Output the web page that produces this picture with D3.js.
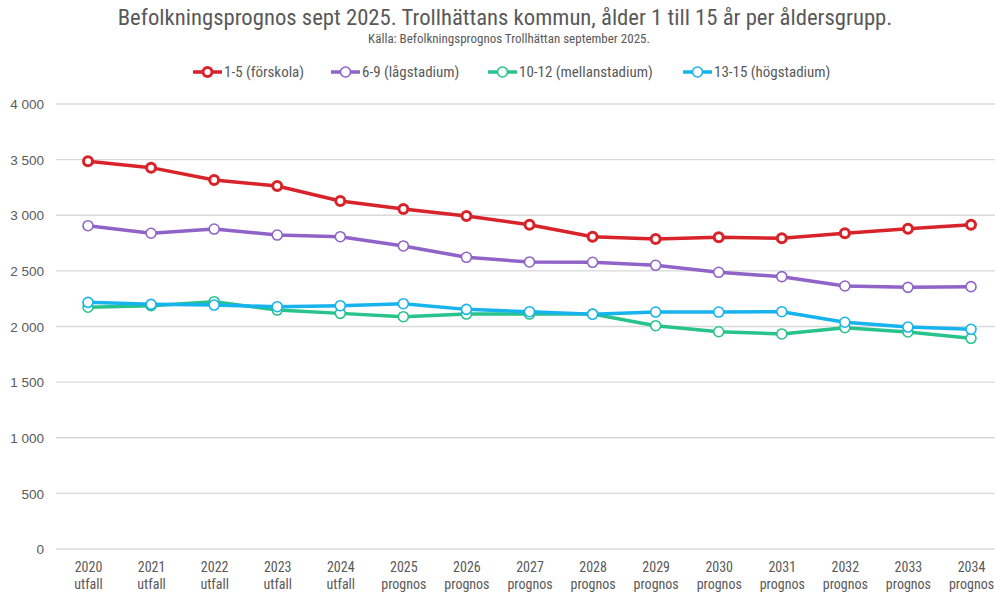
<!DOCTYPE html>
<html><head><meta charset="utf-8">
<script src="https://cdn.jsdelivr.net/npm/d3@7"></script>
<style>body{margin:0;background:#fff}svg{display:block}</style>
</head><body>
<svg id="c" width="995" height="594"></svg>
<script>
const years = ["2020","2021","2022","2023","2024","2025","2026","2027","2028","2029","2030","2031","2032","2033","2034"];
const subLabels = ["utfall","utfall","utfall","utfall","utfall","prognos","prognos","prognos","prognos","prognos","prognos","prognos","prognos","prognos","prognos"];
const seriesNames = ["1-5 (förskola)","6-9 (lågstadium)","10-12 (mellanstadium)","13-15 (högstadium)"];
const forskola = [3485,3428,3317,3263,3128,3056,2993,2915,2807,2787,2802,2793,2838,2879,2915];
const lagstadium = [2906,2838,2876,2822,2807,2724,2622,2580,2577,2550,2487,2448,2364,2352,2358];
const mellanstadium = [2173,2187,2223,2148,2118,2088,2112,2112,2112,2007,1953,1933,1989,1951,1894];
const hogstadium = [2217,2199,2193,2178,2187,2205,2154,2133,2110,2130,2130,2133,2038,1995,1975];
const yTicks = [0,500,1000,1500,2000,2500,3000,3500,4000];
const colors = ["#d9232a","#8f63c8","#27c38a","#17b3ee"];
const title = "Befolkningsprognos sept 2025. Trollhättans kommun, ålder 1 till 15 år per åldersgrupp.";
const subtitle = "Källa: Befolkningsprognos Trollhättan september 2025.";

const allSeries = [forskola, lagstadium, mellanstadium, hogstadium];
const svg = d3.select("#c");
const font = "'Liberation Sans Narrow','Roboto Condensed','Liberation Sans',sans-serif";
const txt = "#595959";

const x = d3.scalePoint().domain(years).range([88, 971]);
const y = d3.scaleLinear().domain([0, 4000]).range([549, 104]);

// title
svg.append("text").attr("x", 505).attr("y", 25).attr("text-anchor", "middle")
  .attr("font-family", font).attr("font-size", 22.7).attr("fill", txt).text(title);
svg.append("text").attr("x", 509).attr("y", 43).attr("text-anchor", "middle")
  .attr("font-family", font).attr("font-size", 13).attr("fill", txt).text(subtitle);

// gridlines
const grid = svg.append("g");
grid.selectAll("line").data(yTicks).join("line")
  .attr("x1", 56).attr("x2", 995)
  .attr("y1", d => y(d)).attr("y2", d => y(d))
  .attr("stroke", "#d9d9d9").attr("stroke-width", 1.3);

// y axis
const yAxis = svg.append("g").attr("transform", "translate(44,0)")
  .call(d3.axisLeft(y).tickValues(yTicks).tickSize(0).tickPadding(0)
    .tickFormat(d => d3.format(",")(d).replace(",", "\u00a0")));
yAxis.select(".domain").remove();
yAxis.selectAll("text").attr("font-family", "'Liberation Sans',Arial,sans-serif")
  .attr("font-size", 13.5).attr("fill", txt).attr("dy", "0.35em");

// x axis
const xAxis = svg.append("g").attr("transform", "translate(0,560)")
  .call(d3.axisBottom(x).tickSize(0).tickPadding(0).tickFormat(() => ""));
xAxis.select(".domain").remove();
xAxis.selectAll(".tick text").remove();
xAxis.selectAll(".tick").append("text")
  .attr("text-anchor", "middle").attr("font-family", font).attr("font-size", 14).attr("fill", txt)
  .attr("y", 12).text(d => d);
xAxis.selectAll(".tick").append("text")
  .attr("text-anchor", "middle").attr("font-family", font).attr("font-size", 14).attr("fill", txt)
  .attr("y", 29).text((d, i) => subLabels[i]);

// lines
const line = d3.line().x((d, i) => x(years[i])).y(d => y(d));
const order = [1, 0, 2, 3];
order.forEach(si => {
  const vals = allSeries[si];
  svg.append("path").datum(vals).attr("d", line).attr("fill", "none")
    .attr("stroke", colors[si]).attr("stroke-width", 3.5).attr("stroke-linejoin", "round");
});
order.forEach(si => {
  const vals = allSeries[si];
  svg.append("g").selectAll("circle").data(vals).join("circle")
    .attr("cx", (d, i) => x(years[i])).attr("cy", d => y(d))
    .attr("r", si === 0 ? 4.5 : 5).attr("fill", "#fff")
    .attr("stroke", colors[si]).attr("stroke-width", si === 0 ? 3 : 1.6);
});

// legend
const legX = [193, 331, 488, 683];
const leg = svg.append("g");
seriesNames.forEach((n, i) => {
  const g = leg.append("g").attr("transform", `translate(${legX[i]},72)`);
  g.append("line").attr("x1", 0).attr("x2", 29).attr("y1", 0).attr("y2", 0)
    .attr("stroke", colors[i]).attr("stroke-width", 3.5);
  g.append("circle").attr("cx", 14.5).attr("cy", 0).attr("r", i === 0 ? 4.5 : 5)
    .attr("fill", "#fff").attr("stroke", colors[i]).attr("stroke-width", i === 0 ? 3 : 1.6);
  g.append("text").attr("x", 31).attr("y", 0).attr("dy", "0.35em")
    .attr("font-family", font).attr("font-size", 15).attr("fill", txt).text(n);
});
</script>
</body></html>
